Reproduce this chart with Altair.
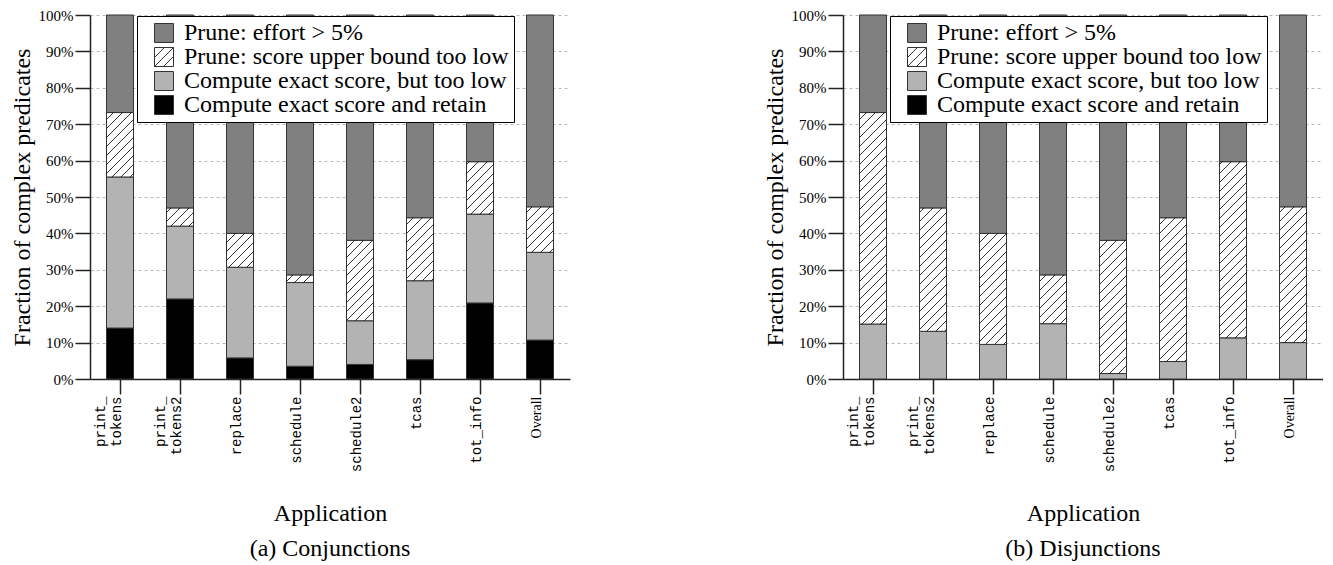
import math
import altair as alt
import pandas as pd

# ---------------- data ----------------
apps = ["print_tokens", "print_tokens2", "replace", "schedule",
        "schedule2", "tcas", "tot_info", "Overall"]
app_labels = ["print_|tokens", "print_|tokens2", "replace", "schedule",
              "schedule2", "tcas", "tot_info", "Overall"]

categories = ["Prune: effort > 5%",
              "Prune: score upper bound too low",
              "Compute exact score, but too low",
              "Compute exact score and retain"]

# (a) Conjunctions, percentages of complex predicates
conj_retain = [14.0, 22.0, 5.8, 3.5, 4.0, 5.3, 20.9, 10.7]
conj_toolow = [41.5, 20.0, 24.9, 23.0, 12.0, 21.7, 24.4, 24.1]
conj_bound = [17.7, 5.0, 9.3, 2.1, 22.1, 17.3, 14.4, 12.5]

# (b) Disjunctions
disj_retain = [0.0, 0.0, 0.0, 0.0, 0.0, 0.0, 0.0, 0.0]
disj_toolow = [15.1, 13.1, 9.5, 15.2, 1.5, 4.8, 11.3, 10.0]
disj_bound = [58.1, 33.9, 30.5, 13.4, 36.6, 39.5, 48.4, 37.3]

# ---------------- style ----------------
W, H = 480, 364
BAR_HALF = 0.225
HATCH_STEP = 9.0
fills = ["#808080", "#ffffff", "#b3b3b3", "#000000"]
SQ = "M-1,-1H1V1H-1Z"
HATCHED = SQ + "M-1,0.05L0.05,-1M-1,1L1,-1M-0.05,1L1,-0.05"
SERIF = "Liberation Serif"
MONO = "Liberation Mono"


def hatch_lines(x0, x1, y0, y1):
    px = W / 8.0
    py = H / 100.0
    X0, X1 = (x0 + 0.5) * px, (x1 + 0.5) * px
    Y0, Y1 = y0 * py, y1 * py
    out = []
    k = math.ceil((Y0 - X1) / HATCH_STEP)
    while k * HATCH_STEP <= Y1 - X0:
        c = k * HATCH_STEP
        xs = max(X0, Y0 - c)
        xe = min(X1, Y1 - c)
        if xe - xs > 0.3:
            out.append(dict(hx0=xs / px - 0.5, hx1=xe / px - 0.5,
                            hy0=(xs + c) / py, hy1=(xe + c) / py))
        k += 1
    return out


def build(retain, toolow, bound):
    rows, hatch = [], []
    for i, app in enumerate(apps):
        effort = 100.0 - retain[i] - toolow[i] - bound[i]
        segs = [(categories[3], retain[i]), (categories[2], toolow[i]),
                (categories[1], bound[i]), (categories[0], effort)]
        base = 0.0
        for cat, v in segs:
            if v > 0:
                rows.append(dict(app=app, idx=i, x0=i - BAR_HALF, x1=i + BAR_HALF,
                                 y0=base, y1=base + v, category=cat))
                if cat == categories[1]:
                    hatch += hatch_lines(i - BAR_HALF, i + BAR_HALF, base, base + v)
            base += v
    return pd.DataFrame(rows), pd.DataFrame(hatch)


label_js = "[" + ",".join("'" + s + "'" for s in app_labels) + "]"
shape_sig = "datum.value == '" + categories[1] + "' ? '" + HATCHED + "' : '" + SQ + "'"


def panel(retain, toolow, bound, caption):
    bars_df, hatch_df = build(retain, toolow, bound)
    xscale = alt.Scale(domain=[-0.5, 7.5], nice=False, zero=False)
    yscale = alt.Scale(domain=[0, 100], nice=False, zero=False)
    xaxis = alt.Axis(values=list(range(8)),
                     labelExpr="split(" + label_js + "[datum.value], '|')",
                     labelAngle=-90, labelAlign="right", labelBaseline="alphabetic",
                     labelOffset={"condition": {"test": "datum.value <= 1", "value": -16},
                                  "value": 0},
                     labelFont={"condition": {"test": "datum.value == 7", "value": SERIF},
                                "value": MONO},
                     labelFontSize=14, labelLineHeight=16, labelPadding=2,
                     tickSize=15, grid=False, title="Application",
                     titlePadding=30, labelOverlap=False)
    yaxis = alt.Axis(values=list(range(0, 101, 10)), labelExpr="datum.value + '%'",
                     labelFont=SERIF, labelFontSize=15, labelPadding=2, tickSize=15,
                     grid=True, gridDash=[3, 3], gridColor="#b8b8b8", gridWidth=1,
                     title="Fraction of complex predicates", titlePadding=4)
    leg = alt.Legend(title=None, orient="none", legendX=47, legendY=1,
                     fillColor="white", strokeColor="black", padding=5,
                     symbolOffset=10, symbolSize=361,
                     symbolType=alt.ExprRef(shape_sig),
                     symbolStrokeColor="#333333", symbolStrokeWidth=1,
                     symbolOpacity=1,
                     labelFont=SERIF, labelFontSize=24, labelColor="black",
                     labelOffset=8, labelLimit=600, rowPadding=0)
    bars = alt.Chart(bars_df).mark_rect(stroke="#333333", strokeWidth=1).encode(
        x=alt.X("x0:Q", scale=xscale, axis=xaxis),
        x2="x1:Q",
        y=alt.Y("y0:Q", scale=yscale, axis=yaxis),
        y2="y1:Q",
        color=alt.Color("category:N", scale=alt.Scale(domain=categories, range=fills),
                        legend=leg),
    )
    hatch = alt.Chart(hatch_df).mark_rule(color="black", strokeWidth=0.8).encode(
        x=alt.X("hx0:Q", scale=xscale, axis=xaxis),
        x2="hx1:Q",
        y=alt.Y("hy0:Q", scale=yscale, axis=yaxis),
        y2="hy1:Q",
    )
    return alt.layer(bars, hatch).properties(
        width=W, height=H,
        title=alt.TitleParams(caption, orient="bottom", font=SERIF, fontSize=24,
                              fontWeight="normal", color="black", offset=11,
                              anchor="middle"),
    )


left = panel(conj_retain, conj_toolow, conj_bound, "(a) Conjunctions")
right = panel(disj_retain, disj_toolow, disj_bound, "(b) Disjunctions")

chart = alt.hconcat(left, right, spacing=193).resolve_scale(
    color="independent"
).resolve_legend(color="independent").properties(
    padding={"left": 2, "top": 0, "right": 0, "bottom": 0}
).configure_view(stroke=None).configure_axis(
    domainColor="#222222", domainWidth=1.5, tickColor="#222222", tickWidth=1.5,
    labelColor="black", titleColor="black", titleFont=SERIF, titleFontSize=24,
    titleFontWeight="normal",
)

chart.save("out.html", embed_options={"renderer": "svg", "actions": False})
